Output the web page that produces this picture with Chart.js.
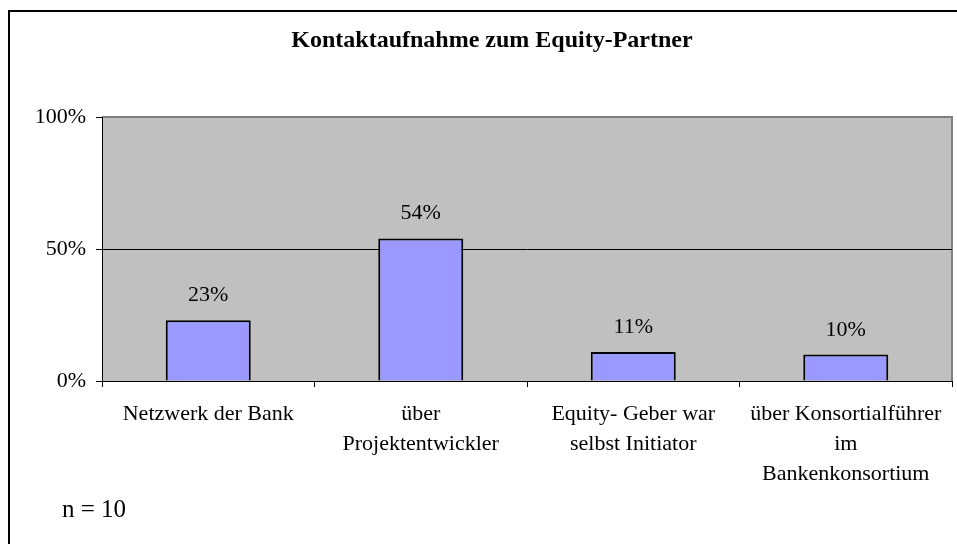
<!DOCTYPE html>
<html>
<head>
<meta charset="utf-8">
<script src="https://cdn.jsdelivr.net/npm/chart.js@4/dist/chart.umd.min.js"></script>
<style>
  body { margin: 0; background: #fff; }
  #wrap { position: relative; width: 957px; height: 544px; }
</style>
</head>
<body>
<div id="wrap"><canvas id="chart" width="957" height="544"></canvas></div>
<script>
const categories = [
    "Netzwerk der Bank",
    ["über", "Projektentwickler"],
    ["Equity- Geber war", "selbst Initiator"],
    ["über Konsortialführer", "im", "Bankenkonsortium"]
];
const shares = [23, 54, 11, 10];
const yTicks = [0, 50, 100];
const chartTitle = "Kontaktaufnahme zum Equity-Partner";
const sampleNote = "n = 10";

const serif = "'Liberation Serif', 'Times New Roman', serif";

// gray plot background + frame, title and n note
const decorations = {
    id: "decorations",
    beforeDraw(chart) {
        const { ctx, chartArea } = chart;
        ctx.save();
        ctx.fillStyle = "#ffffff";
        ctx.fillRect(0, 0, chart.width, chart.height);
        ctx.strokeStyle = "#000";
        ctx.lineWidth = 2;
        ctx.strokeRect(9, 11, 1000, 600);
        ctx.fillStyle = "#c0c0c0";
        ctx.fillRect(chartArea.left, chartArea.top, chartArea.right - chartArea.left, chartArea.bottom - chartArea.top);
        ctx.strokeStyle = "#808080";
        ctx.lineWidth = 2;
        ctx.beginPath();
        ctx.moveTo(chartArea.left, chartArea.top);
        ctx.lineTo(chartArea.right, chartArea.top);
        ctx.lineTo(chartArea.right, chartArea.bottom);
        ctx.stroke();
        ctx.fillStyle = "#000";
        ctx.font = "bold 24px " + serif;
        ctx.textAlign = "center";
        ctx.textBaseline = "middle";
        ctx.fillText(chartTitle, 492, 41);
        ctx.font = "25px " + serif;
        ctx.textAlign = "left";
        ctx.textBaseline = "alphabetic";
        ctx.fillText(sampleNote, 62, 517);
        ctx.restore();
    },
    afterDatasetsDraw(chart) {
        const { ctx } = chart;
        const meta = chart.getDatasetMeta(0);
        ctx.save();
        ctx.fillStyle = "#000";
        ctx.font = "22px " + serif;
        ctx.textAlign = "center";
        ctx.textBaseline = "alphabetic";
        meta.data.forEach((bar, i) => {
            ctx.fillText(shares[i] + "%", bar.x, bar.y - 19);
        });
        ctx.restore();
    }
};

new Chart(document.getElementById("chart"), {
    type: "bar",
    data: {
        labels: categories,
        datasets: [{
            data: shares,
            backgroundColor: "#9999ff",
            borderColor: "#000",
            borderWidth: 2,
            categoryPercentage: 1,
            barPercentage: 0.4
        }]
    },
    options: {
        responsive: false,
        animation: false,
        layout: { padding: { left: 0, right: 5, top: 117, bottom: 0 } },
        plugins: {
            legend: { display: false },
            tooltip: { enabled: false }
        },
        scales: {
            x: {
                offset: true,
                afterFit(scale) { scale.height = 163; },
                border: { color: "#000", width: 1 },
                grid: {
                    offset: true,
                    drawOnChartArea: false,
                    tickLength: 6,
                    tickColor: "#000"
                },
                ticks: {
                    color: "#000",
                    font: { family: serif, size: 22, lineHeight: 1.36 },
                    padding: 12,
                    maxRotation: 0,
                    autoSkip: false
                }
            },
            y: {
                min: 0,
                max: 100,
                afterFit(scale) { scale.width = 102; },
                afterBuildTicks(scale) { scale.ticks = yTicks.map(v => ({ value: v })); },
                border: { color: "#000", width: 1 },
                grid: {
                    color: ctx => ctx.tick && ctx.tick.value === 100 ? "rgba(0,0,0,0)" : "#000",
                    tickColor: "#000",
                    tickLength: 6
                },
                ticks: {
                    color: "#000",
                    font: { family: serif, size: 22 },
                    padding: 10,
                    callback: v => v + "%"
                }
            }
        }
    },
    plugins: [decorations]
});
</script>
</body>
</html>
